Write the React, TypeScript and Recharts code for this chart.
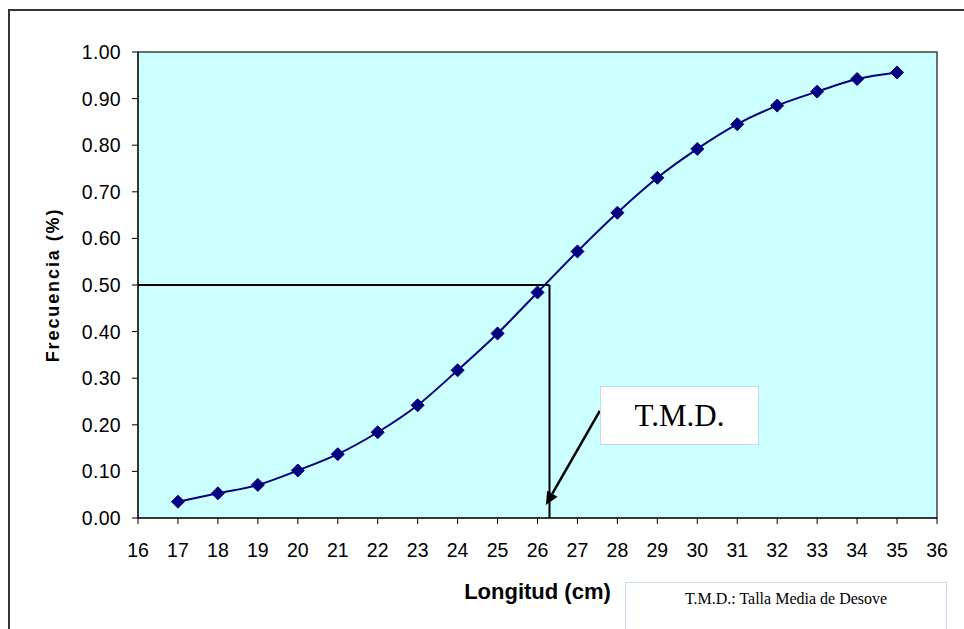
import { LineChart, Line, XAxis, YAxis, CartesianGrid, ReferenceLine, ReferenceArea } from 'recharts';

const LENGTHS = [17, 18, 19, 20, 21, 22, 23, 24, 25, 26, 27, 28, 29, 30, 31, 32, 33, 34, 35];
const FREQ = [0.035, 0.053, 0.071, 0.102, 0.137, 0.184, 0.242, 0.317, 0.396, 0.484, 0.572, 0.655, 0.73, 0.792, 0.845, 0.885, 0.915, 0.942, 0.956];
const X_TICKS = [16, 17, 18, 19, 20, 21, 22, 23, 24, 25, 26, 27, 28, 29, 30, 31, 32, 33, 34, 35, 36];
const Y_TICKS = [0, 0.1, 0.2, 0.3, 0.4, 0.5, 0.6, 0.7, 0.8, 0.9, 1.0];

// talla media de desove (where the curve crosses 0.50)
const TMD = 26.3;
const HALF = 0.5;
// arrow from the label box down to the TMD point on the axis
const ARROW_FROM = { x: 27.56, y: 0.23 };
const ARROW_TO = { x: 26.21, y: 0.028 };

const data = LENGTHS.map((len, i) => ({ len, freq: FREQ[i] }));

const ARIAL = '"Liberation Sans", Arial, sans-serif';
const TIMES = '"Liberation Serif", "Times New Roman", serif';
const NAVY = '#000080';

function Diamond(props: any) {
  const { cx, cy } = props;
  if (cx == null || cy == null) return null;
  const r = 6.5;
  return (
    <polygon
      points={`${cx},${cy - r} ${cx + r},${cy} ${cx},${cy + r} ${cx - r},${cy}`}
      fill={NAVY}
      stroke={NAVY}
    />
  );
}

function Arrow(props: any) {
  const { x1, y1, x2, y2 } = props;
  if (x1 == null) return null;
  const dx = x2 - x1;
  const dy = y2 - y1;
  const len = Math.sqrt(dx * dx + dy * dy);
  const ux = dx / len;
  const uy = dy / len;
  const head = 13;
  const w = 6;
  const bx = x2 - ux * head;
  const by = y2 - uy * head;
  return (
    <g>
      <line x1={x1} y1={y1} x2={bx} y2={by} stroke="#000" strokeWidth={2.5} />
      <polygon
        points={`${x2},${y2} ${bx - uy * w},${by + ux * w} ${bx + uy * w},${by - ux * w}`}
        fill="#000"
      />
    </g>
  );
}

export default function App() {
  return (
    <div style={{ position: 'fixed', left: 0, top: 0, width: 964, height: 629, overflow: 'hidden', background: '#fff' }}>
      <div
        style={{
          position: 'absolute',
          left: 8,
          top: 9,
          width: 1000,
          height: 700,
          border: '2px solid #333',
        }}
      />
      <div style={{ position: 'absolute', left: 0, top: 0 }}>
        <LineChart width={964} height={629} data={data} margin={{ top: 52, right: 27, bottom: 81, left: 78 }}>
          <CartesianGrid fill="#CCFFFF" horizontal={false} vertical={false} />
          <ReferenceArea x1={16} x2={36} y1={0} y2={1} fill="none" stroke="#404040" strokeWidth={1.5} ifOverflow="visible" />
          <XAxis
            dataKey="len"
            type="number"
            domain={[16, 36]}
            ticks={X_TICKS}
            interval={0}
            height={30}
            stroke="#000"
            tickSize={6}
            tickMargin={19}
            tick={{ fill: '#000', fontSize: 19.5, fontFamily: ARIAL }}
            label={{
              value: 'Longitud (cm)',
              position: 'bottom',
              offset: 35,
              style: { fill: '#000', fontSize: 22, fontWeight: 'bold', fontFamily: ARIAL },
            }}
          />
          <YAxis
            type="number"
            domain={[0, 1]}
            ticks={Y_TICKS}
            interval={0}
            width={60}
            stroke="#000"
            tickSize={6}
            tickMargin={11}
            tickFormatter={(v: number) => v.toFixed(2)}
            tick={{ fill: '#000', fontSize: 19.5, fontFamily: ARIAL, letterSpacing: 0.3 }}
          />
          <ReferenceLine
            segment={[{ x: 16, y: HALF }, { x: TMD, y: HALF }]}
            stroke="#000"
            strokeWidth={2}
          />
          <ReferenceLine
            segment={[{ x: TMD, y: HALF }, { x: TMD, y: 0 }]}
            stroke="#000"
            strokeWidth={2}
          />
          <Line
            dataKey="freq"
            type="monotone"
            stroke={NAVY}
            strokeWidth={2}
            dot={<Diamond />}
            activeDot={false}
            isAnimationActive={false}
          />
          <ReferenceLine segment={[ARROW_FROM, ARROW_TO]} shape={<Arrow />} />
        </LineChart>
      </div>
      <div
        style={{
          position: 'absolute',
          left: 53,
          top: 285,
          transform: 'translate(-50%, -50%) rotate(-90deg)',
          whiteSpace: 'nowrap',
          fontFamily: ARIAL,
          fontWeight: 'bold',
          fontSize: 18,
          letterSpacing: 1.9,
        }}
      >
        Frecuencia (%)
      </div>
      <div
        style={{
          position: 'absolute',
          left: 600,
          top: 386,
          width: 157,
          height: 57,
          background: '#fff',
          border: '1px solid #C6D9F1',
          display: 'flex',
          alignItems: 'center',
          justifyContent: 'center',
          fontFamily: TIMES,
          fontSize: 31,
          color: '#000',
        }}
      >
        T.M.D.
      </div>
      <div
        style={{
          position: 'absolute',
          left: 625,
          top: 582,
          width: 322,
          height: 80,
          background: '#fff',
          border: '1px solid #C6D9F1',
          fontFamily: TIMES,
          fontSize: 16,
          color: '#000',
          textAlign: 'center',
          paddingTop: 7,
          boxSizing: 'border-box',
        }}
      >
        T.M.D.: Talla Media de Desove
      </div>
    </div>
  );
}
